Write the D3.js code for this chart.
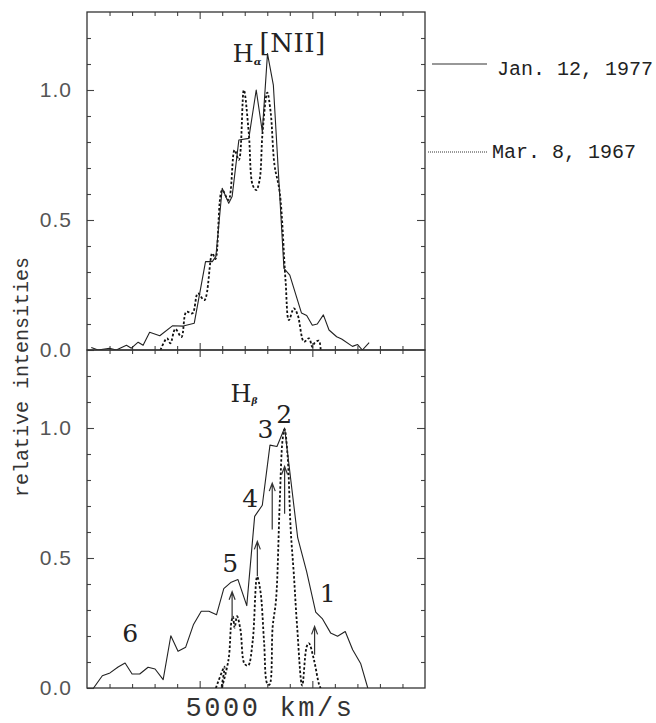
<!DOCTYPE html>
<html>
<head>
<meta charset="utf-8">
<script src="https://cdn.jsdelivr.net/npm/d3@7"></script>
<style>
  body { margin: 0; background: #fff; }
  svg { display: block; }
</style>
</head>
<body>
<div id="chart"></div>
<script>
// velocity in km/s (major tick spacing = 5000 km/s), relative intensity
const haJan1977 = [[190,0.010],[490,0.000],[1000,0.007],[1300,0.000],[1750,0.018],[1970,0.007],[2270,0.030],[2490,0.018],
  [2780,0.068],[3230,0.055],[3790,0.093],[4270,0.092],[4760,0.103],[5260,0.340],[5560,0.340],[5720,0.360],[6000,0.622],
  [6290,0.564],[6440,0.590],[6740,0.808],[7180,0.814],[7510,1.000],[7780,0.840],[8010,1.140],[8270,1.019],[8740,0.314],
  [9000,0.288],[9520,0.142],[9750,0.133],[10000,0.095],[10220,0.100],[10490,0.135],[10740,0.077],[11080,0.051],
  [11300,0.042],[11780,0.014],[12010,0.021],[12220,0.000],[12520,0.028]];

const haMar1967 = [[3260,0.000],[3550,0.045],[3700,0.026],[3920,0.081],[4190,0.050],[4410,0.147],[4680,0.141],[4920,0.218],
  [5210,0.192],[5560,0.372],[5700,0.350],[6000,0.615],[6280,0.577],[6550,0.769],[6740,0.731],[6960,1.000],[7180,0.835],
  [7350,0.635],[7510,0.615],[7660,0.654],[7790,0.835],[8000,0.990],[8150,0.915],[8320,0.712],[8550,0.608],[8810,0.269],
  [8960,0.115],[9180,0.160],[9350,0.135],[9630,0.032],[9850,0.045],[10000,0.012],[10100,0.027],[10290,0.036],[10370,0.000]];

const hbJan1977 = [[290,0.000],[680,0.047],[1020,0.058],[1380,0.081],[1690,0.096],[2000,0.054],[2340,0.054],[2710,0.080],
  [3020,0.073],[3380,0.032],[3720,0.201],[4040,0.141],[4380,0.157],[4720,0.243],[5070,0.295],[5410,0.295],[5750,0.282],
  [6070,0.382],[6400,0.407],[6700,0.417],[7090,0.317],[7440,0.660],[7780,0.703],[8120,0.934],[8430,0.929],[8770,1.000],
  [9350,0.578],[9750,0.447],[10150,0.292],[10440,0.267],[10810,0.212],[11120,0.199],[11460,0.217],[11790,0.147],
  [12150,0.093],[12460,0.000]];

const hbMar1967 = [[5720,0.000],[6100,0.082],[5970,0.000],[6280,0.109],[6410,0.255],[6480,0.274],[6550,0.232],[6660,0.276],
  [6810,0.224],[6990,0.093],[7150,0.086],[7350,0.178],[7550,0.428],[7700,0.370],[7860,0.174],[8000,0.017],[8100,0.013],
  [8240,0.236],[8390,0.340],[8550,0.705],[8680,0.955],[8770,0.995],[8900,0.897],[9040,0.609],[9180,0.436],[9320,0.243],
  [9550,0.009],[9750,0.159],[9850,0.172],[10070,0.109],[10300,0.013],[10370,0.000]];

const yTickLabels = [0, 0.5, 1.0];
const legendLabels = ["Jan. 12, 1977", "Mar. 8, 1967"];

// numbered components in the H-beta panel
const peakLabels = ["1", "2", "3", "4", "5", "6"];
const peakLabelX = [10680, 8750, 7920, 7240, 6350, 1920];
const peakLabelY = [0.332, 1.020, 0.963, 0.697, 0.447, 0.178];
const arrowX = [10100, 8770, 8220, 7560, 6440];
const arrowFrom = [0.128, 0.670, 0.610, 0.430, 0.260];
const arrowTo = [0.237, 0.852, 0.788, 0.564, 0.370];

const W = 656, H = 723;
const plotL = 87, plotR = 425, plotT = 12, panelH = 338;
const serif = "'DejaVu Serif','Liberation Serif',serif";
const mono = "'Liberation Mono','DejaVu Sans Mono',monospace";
const sans = "'Liberation Sans',Arial,sans-serif";

const svg = d3.select("#chart").append("svg")
    .attr("width", W)
    .attr("height", H);

const x = d3.scaleLinear().domain([0, 15000]).range([plotL, plotR]);
const y = d3.scaleLinear().domain([0, 1.3]).range([panelH, 0]);

const minorX = d3.range(1000, 15000, 1000).filter(d => d % 5000 !== 0);
const majorX = [5000, 10000];
const minorY = d3.range(1, 13).map(d => d / 10).filter(d => d !== 0.5 && d !== 1);

const solid = d3.line().x(d => x(d[0])).y(d => y(d[1]));
const dotted = d3.line().x(d => x(d[0])).y(d => y(d[1])).curve(d3.curveCatmullRom.alpha(0.5));

function panel(i, jan, mar) {
    const g = svg.append("g").attr("transform", `translate(0,${plotT + i * panelH})`);

    g.append("clipPath").attr("id", "clip" + i)
        .append("rect").attr("x", plotL).attr("y", 0).attr("width", plotR - plotL).attr("height", panelH);

    // ticks, all pointing inward
    const tick = (axis, vals, size, tr) => g.append("g")
        .attr("transform", tr)
        .call(axis.tickValues(vals).tickSize(-size).tickFormat(""))
        .call(s => s.select(".domain").remove())
        .call(s => s.selectAll("line").attr("stroke", "#444").attr("stroke-width", 1.1));

    tick(d3.axisBottom(x), minorX, 4, `translate(0,${panelH})`);
    tick(d3.axisBottom(x), majorX, 7, `translate(0,${panelH})`);
    tick(d3.axisTop(x), minorX, 4, "translate(0,0)");
    tick(d3.axisTop(x), majorX, 7, "translate(0,0)");
    tick(d3.axisLeft(y), minorY, 4, `translate(${plotL},0)`);
    tick(d3.axisRight(y), minorY, 4, `translate(${plotR},0)`);
    tick(d3.axisRight(y), [0.5, 1.0], 8, `translate(${plotR},0)`);

    g.append("g")
        .attr("transform", `translate(${plotL},0)`)
        .call(d3.axisLeft(y).tickValues(yTickLabels).tickSize(-7).tickPadding(15).tickFormat(d3.format(".1f")))
        .call(s => s.select(".domain").remove())
        .call(s => s.selectAll("line").attr("stroke", "#444").attr("stroke-width", 1.1))
        .call(s => s.selectAll("text")
            .attr("font-family", sans).attr("font-size", 21).attr("fill", "#555")
            .attr("letter-spacing", 1));

    g.append("rect")
        .attr("x", plotL).attr("y", 0)
        .attr("width", plotR - plotL).attr("height", panelH)
        .attr("fill", "none").attr("stroke", "#333").attr("stroke-width", 1.3);

    const lines = g.append("g").attr("clip-path", `url(#clip${i})`);
    lines.append("path").datum(mar)
        .attr("d", dotted)
        .attr("fill", "none").attr("stroke", "#111")
        .attr("stroke-width", 1.8).attr("stroke-dasharray", "2.5 2");
    lines.append("path").datum(jan)
        .attr("d", solid)
        .attr("fill", "none").attr("stroke", "#222")
        .attr("stroke-width", 1.1).attr("stroke-linejoin", "round");
    return g;
}

const gTop = panel(0, haJan1977, haMar1967);
const gBot = panel(1, hbJan1977, hbMar1967);

// line identifications
const ha = gTop.append("text").attr("x", x(6466)).attr("y", y(1.109))
    .attr("font-family", serif).attr("font-size", 24).attr("fill", "#222");
ha.append("tspan").text("H");
ha.append("tspan").attr("font-size", 10).attr("font-style", "italic").attr("font-weight", "bold").attr("dy", 3).text("α");
gTop.append("text").attr("x", x(7657)).attr("y", y(1.146))
    .attr("font-family", serif).attr("font-size", 26).attr("letter-spacing", 0.5).attr("fill", "#222")
    .text("[NII]");

const hb = gBot.append("text").attr("x", x(6370)).attr("y", y(1.101))
    .attr("font-family", serif).attr("font-size", 24).attr("fill", "#222");
hb.append("tspan").text("H");
hb.append("tspan").attr("font-size", 9).attr("font-style", "italic").attr("font-weight", "bold").attr("dy", 2).text("β");

gBot.selectAll(".peak").data(peakLabels).enter().append("text")
    .attr("class", "peak")
    .attr("x", (d, k) => x(peakLabelX[k]))
    .attr("y", (d, k) => y(peakLabelY[k]))
    .attr("text-anchor", "middle")
    .attr("font-family", serif).attr("font-size", 25).attr("fill", "#222")
    .text(d => d);

gBot.selectAll(".arrow").data(arrowX).enter().append("path")
    .attr("class", "arrow")
    .attr("d", (d, k) => {
        const ax = x(d), y0 = y(arrowFrom[k]), y1 = y(arrowTo[k]);
        return `M${ax},${y0}V${y1}M${ax - 3},${y1 + 8}L${ax},${y1}L${ax + 3},${y1 + 8}`;
    })
    .attr("fill", "none").attr("stroke", "#333").attr("stroke-width", 1.2);

// legend
const legend = svg.append("g");
legend.append("line").attr("x1", 432).attr("x2", 487).attr("y1", 64).attr("y2", 64)
    .attr("stroke", "#333").attr("stroke-width", 1.1);
legend.append("line").attr("x1", 428).attr("x2", 487).attr("y1", 152).attr("y2", 152)
    .attr("stroke", "#333").attr("stroke-width", 1).attr("stroke-dasharray", "1 1");
legend.selectAll("text").data(legendLabels).enter().append("text")
    .attr("x", (d, k) => k ? 492 : 497)
    .attr("y", (d, k) => k ? 158 : 75)
    .attr("font-family", mono).attr("font-size", 20).attr("fill", "#222")
    .text(d => d);

// axis titles
svg.append("text")
    .attr("transform", "translate(28,377) rotate(-90)")
    .attr("text-anchor", "middle")
    .attr("font-family", mono).attr("font-size", 20).attr("fill", "#333")
    .text("relative intensities");

svg.append("text")
    .attr("x", 270).attr("y", 716)
    .attr("text-anchor", "middle")
    .attr("font-family", mono).attr("font-size", 27).attr("letter-spacing", 2.6).attr("fill", "#333")
    .text("5000 km/s");
</script>
</body>
</html>
